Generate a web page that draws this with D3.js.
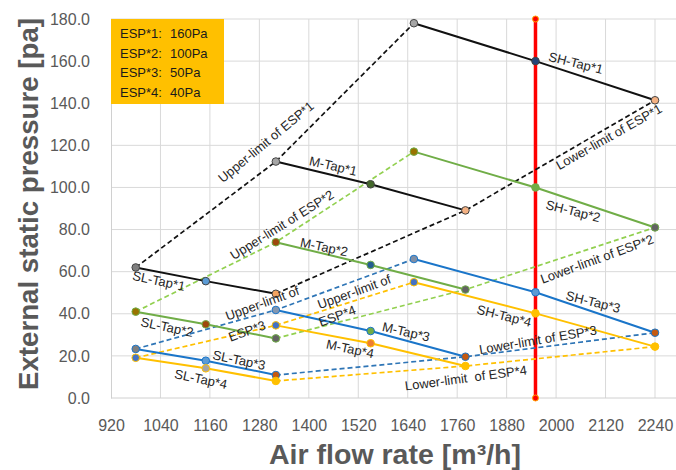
<!DOCTYPE html>
<html>
<head>
<meta charset="utf-8">
<script src="https://cdn.jsdelivr.net/npm/d3@7"></script>
<style>
  body { margin: 0; background: #fff; }
  text { font-family: "Liberation Sans", Arial, sans-serif; }
</style>
</head>
<body>
<div id="chart"></div>
<script>
// ESP legend
const espNames = ["ESP*1", "ESP*2", "ESP*3", "ESP*4"];
const espValues = ["160Pa", "100Pa", "50Pa", "40Pa"];

// air flow of each tap (m3/h)
const flowSL = [980, 1150, 1320];
const flowM = [1320, 1550, 1780];
const flowSH = [1655, 1950, 2240];

// static pressure per ESP setting (pa)
const slTap = [[62, 55.5, 49.5], [41, 35, 28.3], [23.3, 17.7, 10.9], [19.1, 14.1, 8.1]];
const mTap = [[112.3, 101.5, 89.1], [74, 63.2, 51.5], [41.8, 31.8, 19.6], [34.5, 26, 15.2]];
const shTap = [[178, 160, 141.4], [117, 100, 81], [66, 50.2, 31], [55, 40.2, 24.4]];

const ratedFlow = 1950;

const xTicks = [920, 1040, 1160, 1280, 1400, 1520, 1640, 1760, 1880, 2000, 2120, 2240];
const yTicks = [0, 20, 40, 60, 80, 100, 120, 140, 160, 180];

// annotation labels: text, flow, pressure, angle
const labels = [
  ["SL-Tap*1", 1036, 55.6, 12], ["SL-Tap*2", 1056, 33.7, 12],
  ["SL-Tap*3", 1231, 18, 12], ["SL-Tap*4", 1138, 9, 12],
  ["M-Tap*1", 1459, 110.2, 13], ["M-Tap*2", 1437, 71.7, 12],
  ["M-Tap*3", 1636, 31.4, 13], ["M-Tap*4", 1500, 23.3, 12],
  ["SH-Tap*1", 2048, 159.1, 14], ["SH-Tap*2", 2041, 88.8, 14],
  ["SH-Tap*3", 2090, 45.6, 14], ["SH-Tap*4", 1874, 39, 14],
  ["Upper-limit of ESP*1", 1296, 121.6, -39.5], ["Upper-limit of ESP*2", 1335, 82.2, -32],
  ["Upper-limit of", 1287, 45, -20], ["ESP*3", 1250, 31.8, -20],
  ["Upper-limit of", 1510, 50.4, -20], ["ESP*4", 1469, 39, -20],
  ["Lower-limit of ESP*1", 2128, 124, -29.5], ["Lower-limit of ESP*2", 2099, 66, -20],
  ["Lower-limit of ESP*3", 1956, 27.6, -9.6], ["Lower-limit  of ESP*4", 1781, 9.5, -7.6]
];

// styles
const lineColors = ["#111111", "#70ad47", "#1a75c9", "#ffc000"];
const dashColors = ["#111111", "#92d050", "#2e75b6", "#ffc000"];
const markerColors = [
  [["#7f7f7f", "#5b9bd5", "#f4a460"], ["#a5a5a5", "#43682b", "#f4b183"], ["#a5a5a5", "#264478", "#f4b183"]],
  [["#997300", "#9e480e", "#636363"], ["#9e480e", "#255e91", "#636363"], ["#997300", "#70ad47", "#636363"]],
  [["#7f7f7f", "#5b9bd5", "#c55a11"], ["#8497b0", "#70ad47", "#c55a11"], ["#7f8fa6", "#5b9bd5", "#c55a11"]],
  [["#4472c4", "#a5a5a5", "#ffc000"], ["#4472c4", "#ed7d31", "#ffc000"], ["#4472c4", "#ffc000", "#ffc000"]]
];

const width = 676, height = 470;
const plot = { left: 111, right: 655, top: 19, bottom: 398, gridEnd: 676 };

const svg = d3.select("#chart").append("svg")
  .attr("width", width)
  .attr("height", height);

const x = d3.scaleLinear().domain([920, 2240]).range([plot.left, plot.right]);
const y = d3.scaleLinear().domain([0, 180]).range([plot.bottom, plot.top]);

// grid
svg.append("g").selectAll("line.h")
  .data(yTicks.filter(d => d > 0))
  .enter().append("line")
  .attr("x1", plot.left).attr("x2", plot.gridEnd)
  .attr("y1", d => y(d)).attr("y2", d => y(d))
  .attr("stroke", "#d9d9d9");

svg.append("g").selectAll("line.v")
  .data(xTicks.filter(d => d > 920))
  .enter().append("line")
  .attr("x1", d => x(d)).attr("x2", d => x(d))
  .attr("y1", plot.top).attr("y2", plot.bottom)
  .attr("stroke", "#d9d9d9");

// axes
const xAxis = svg.append("g")
  .attr("transform", `translate(0,${plot.bottom})`)
  .call(d3.axisBottom(x).tickValues(xTicks).tickSize(0).tickPadding(22).tickFormat(d3.format("d")));
xAxis.select(".domain").attr("stroke", "#d0d0d0").attr("d", `M${plot.left},0H${plot.gridEnd}`);

const yAxis = svg.append("g")
  .attr("transform", `translate(${plot.left},0)`)
  .call(d3.axisLeft(y).tickValues(yTicks).tickSize(0).tickPadding(21).tickFormat(d3.format(".1f")));
yAxis.select(".domain").attr("stroke", "#d0d0d0");

svg.selectAll(".tick text")
  .attr("fill", "#595959")
  .style("font-size", "16px")
  .style("font-family", "'Liberation Sans', Arial, sans-serif");

// axis titles
svg.append("text")
  .attr("x", 395).attr("y", 464)
  .attr("text-anchor", "middle")
  .attr("textLength", 252).attr("lengthAdjust", "spacingAndGlyphs")
  .attr("fill", "#595959")
  .style("font-size", "28px").style("font-weight", "bold")
  .text("Air flow rate [m³/h]");

svg.append("text")
  .attr("transform", "translate(38,204) rotate(-90)")
  .attr("text-anchor", "middle")
  .attr("textLength", 372).attr("lengthAdjust", "spacingAndGlyphs")
  .attr("fill", "#595959")
  .style("font-size", "28px").style("font-weight", "bold")
  .text("External static pressure [pa]");

// legend box
svg.append("rect")
  .attr("x", plot.left).attr("y", plot.top)
  .attr("width", 113).attr("height", 85)
  .attr("fill", "#ffc000");

espNames.forEach((name, i) => {
  svg.append("text")
    .attr("x", 120).attr("y", 38 + i * 19.5)
    .attr("fill", "#1a1a1a").style("font-size", "13px")
    .text(name + ":");
  svg.append("text")
    .attr("x", 170).attr("y", 38 + i * 19.5)
    .attr("fill", "#1a1a1a").style("font-size", "13px")
    .text(espValues[i]);
});

// rated flow line
svg.append("line")
  .attr("x1", x(ratedFlow)).attr("x2", x(ratedFlow))
  .attr("y1", y(0)).attr("y2", y(180))
  .attr("stroke", "#ff0000").attr("stroke-width", 3.5);

svg.selectAll(".ratedDot")
  .data([0, 180])
  .enter().append("circle")
  .attr("class", "ratedDot")
  .attr("cx", x(ratedFlow)).attr("cy", d => y(d))
  .attr("r", 3).attr("fill", "#ff0000").attr("stroke", "#ffa500").attr("stroke-width", 1);

const line = d3.line().x(d => x(d[0])).y(d => y(d[1]));

// upper / lower limit dashed lines
for (let i = 0; i < 4; i++) {
  const upper = [[flowSL[0], slTap[i][0]], [flowM[0], mTap[i][0]], [flowSH[0], shTap[i][0]]];
  const lower = [[flowSL[2], slTap[i][2]], [flowM[2], mTap[i][2]], [flowSH[2], shTap[i][2]]];
  [upper, lower].forEach(pts => {
    svg.append("path")
      .datum(pts)
      .attr("fill", "none")
      .attr("stroke", dashColors[i])
      .attr("stroke-width", 1.7)
      .attr("stroke-dasharray", "5,3")
      .attr("d", line);
  });
}

// tap lines and markers
const taps = [[flowSL, slTap], [flowM, mTap], [flowSH, shTap]];
for (let i = 0; i < 4; i++) {
  taps.forEach(([flows, vals]) => {
    const pts = flows.map((f, k) => [f, vals[i][k]]);
    svg.append("path")
      .datum(pts)
      .attr("fill", "none")
      .attr("stroke", lineColors[i])
      .attr("stroke-width", 2)
      .attr("d", line);
  });
}
for (let i = 0; i < 4; i++) {
  taps.forEach(([flows, vals], t) => {
    const pts = flows.map((f, k) => [f, vals[i][k]]);
    svg.selectAll(null)
      .data(pts)
      .enter().append("circle")
      .attr("cx", d => x(d[0]))
      .attr("cy", d => y(d[1]))
      .attr("r", 3.8)
      .attr("fill", (d, k) => markerColors[i][t][k])
      .attr("stroke", i === 0 ? "#444" : lineColors[i])
      .attr("stroke-width", 1);
  });
}

// annotations
svg.append("g").selectAll("text")
  .data(labels)
  .enter().append("text")
  .attr("transform", d => `translate(${x(d[1])},${y(d[2])}) rotate(${d[3]})`)
  .attr("text-anchor", "middle")
  .attr("dominant-baseline", "central")
  .attr("fill", "#262626")
  .style("font-size", "13px")
  .style("white-space", "pre")
  .text(d => d[0]);
</script>
</body>
</html>
